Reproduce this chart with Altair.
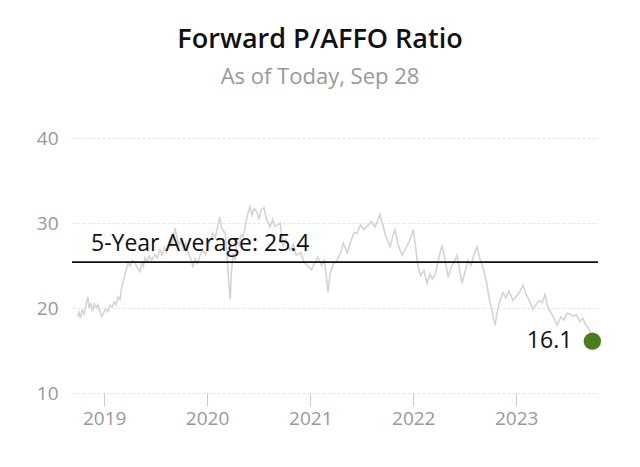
import altair as alt
import pandas as pd

dates = [
    "2018-09-28", "2018-10-04", "2018-10-09", "2018-10-15", "2018-10-22", "2018-10-29",
    "2018-11-04", "2018-11-09", "2018-11-15", "2018-11-20", "2018-11-27", "2018-12-04",
    "2018-12-10", "2018-12-17", "2018-12-24", "2018-12-31", "2019-01-07", "2019-01-14",
    "2019-01-22", "2019-01-29", "2019-02-05", "2019-02-12", "2019-02-19", "2019-02-26",
    "2019-03-05", "2019-03-12", "2019-03-19", "2019-03-27", "2019-04-03", "2019-04-10",
    "2019-04-20", "2019-04-27", "2019-05-08", "2019-05-14", "2019-05-20", "2019-05-26",
    "2019-06-03", "2019-06-10", "2019-06-18", "2019-06-30", "2019-07-08", "2019-07-18",
    "2019-07-26", "2019-08-03", "2019-08-10", "2019-08-22", "2019-08-29", "2019-09-09",
    "2019-09-16", "2019-09-24", "2019-10-01", "2019-10-09", "2019-10-17", "2019-10-25",
    "2019-11-02", "2019-11-12", "2019-11-19", "2019-11-27", "2019-12-05", "2019-12-17",
    "2019-12-26", "2020-01-06", "2020-01-14", "2020-01-21", "2020-01-30", "2020-02-07",
    "2020-02-15", "2020-02-22", "2020-03-05", "2020-03-12", "2020-03-18", "2020-03-23",
    "2020-03-27", "2020-04-02", "2020-04-09", "2020-04-16", "2020-04-24", "2020-05-01",
    "2020-05-08", "2020-05-15", "2020-05-22", "2020-06-01", "2020-06-08", "2020-06-15",
    "2020-06-26", "2020-07-03", "2020-07-10", "2020-07-21", "2020-07-28", "2020-08-11",
    "2020-08-20", "2020-08-28", "2020-09-16", "2020-09-27", "2020-10-06", "2020-10-21",
    "2020-11-02", "2020-11-12", "2020-11-28", "2020-12-10", "2021-01-05", "2021-01-15",
    "2021-01-28", "2021-02-10", "2021-02-20", "2021-03-05", "2021-03-12", "2021-03-22",
    "2021-04-06", "2021-04-18", "2021-04-28", "2021-05-12", "2021-05-24", "2021-06-05",
    "2021-06-16", "2021-06-28", "2021-07-10", "2021-07-21", "2021-08-05", "2021-08-18",
    "2021-09-05", "2021-09-15", "2021-09-25", "2021-10-11", "2021-10-20", "2021-10-28",
    "2021-11-08", "2021-11-22", "2021-12-05", "2021-12-20", "2022-01-01", "2022-01-10",
    "2022-01-18", "2022-01-28", "2022-02-08", "2022-02-19", "2022-03-01", "2022-03-10",
    "2022-03-19", "2022-03-30", "2022-04-13", "2022-04-22", "2022-05-05", "2022-05-15",
    "2022-05-25", "2022-06-05", "2022-06-14", "2022-06-23", "2022-07-03", "2022-07-14",
    "2022-07-25", "2022-08-05", "2022-08-15", "2022-08-25", "2022-09-05", "2022-09-18",
    "2022-09-28", "2022-10-07", "2022-10-13", "2022-10-18", "2022-10-25", "2022-11-02",
    "2022-11-15", "2022-11-25", "2022-12-06", "2022-12-20", "2023-01-04", "2023-01-15",
    "2023-01-25", "2023-02-05", "2023-02-15", "2023-03-01", "2023-03-12", "2023-03-24",
    "2023-04-03", "2023-04-13", "2023-04-24", "2023-05-05", "2023-05-12", "2023-05-26",
    "2023-06-08", "2023-06-20", "2023-06-30", "2023-07-11", "2023-07-22", "2023-08-02",
    "2023-08-15", "2023-08-25", "2023-09-05", "2023-09-19", "2023-09-28",
]

values = [
    19.0, 19.5, 18.8, 19.8, 19.3, 20.4,
    21.3, 20.0, 20.6, 19.6, 20.5, 20.0,
    20.4, 19.6, 19.0, 19.5, 19.9, 19.6,
    20.3, 20.1, 20.7, 20.4, 21.3, 21.0,
    22.6, 23.4, 24.4, 25.3, 24.9, 25.6,
    25.4, 24.8, 24.3, 25.3, 24.9, 25.9,
    25.5, 26.1, 25.6, 26.3, 25.9, 26.8,
    26.2, 27.1, 26.6, 28.0, 27.4, 29.4,
    28.3, 27.4, 28.0, 26.9, 27.6, 26.6,
    26.0, 24.8, 25.8, 25.2, 26.0, 26.8,
    26.3, 27.5, 28.0, 28.8, 28.3, 29.6,
    30.7, 29.4, 28.8, 26.0, 23.0, 21.0,
    24.0, 26.5, 25.6, 28.0, 27.2, 28.6,
    28.4, 29.5, 30.8, 31.9, 30.9, 31.7,
    31.3, 30.4, 31.5, 31.8, 30.6, 29.5,
    30.4, 29.6, 30.0, 27.2, 28.0, 26.8,
    27.5, 26.2, 26.5, 25.4, 24.5, 25.2,
    26.0, 25.0, 25.6, 21.9, 24.0, 25.1,
    25.6, 26.5, 27.6, 26.5, 27.8, 28.9,
    28.8, 29.8, 29.2, 29.6, 30.2, 29.5,
    31.0, 29.8, 28.5, 27.2, 28.4, 29.2,
    27.5, 26.2, 27.0, 28.0, 29.2, 27.0,
    24.8, 23.8, 24.4, 22.9, 24.0, 23.4,
    23.9, 25.5, 27.4, 26.0, 23.6, 24.8,
    25.4, 26.2, 24.5, 22.9, 24.2, 25.6,
    25.0, 26.4, 27.2, 25.8, 24.8, 23.0,
    21.0, 19.8, 18.6, 18.0, 19.4, 20.6,
    21.8, 21.2, 22.0, 20.9, 21.5, 22.0,
    22.7, 21.6, 21.0, 19.8, 20.4, 20.9,
    20.6, 21.6, 20.0, 19.4, 19.0, 18.0,
    18.9, 18.6, 19.4, 19.3, 19.0, 19.2,
    18.4, 18.8, 18.0, 17.4, 16.1,
]

average_value = 25.4
average_label = "5-Year Average: 25.4"
last_date = "2023-09-28"
last_value = 16.1
last_label = "16.1"
year_ticks = [2019, 2020, 2021, 2022, 2023]

FONT = "Open Sans"

series = pd.DataFrame({"date": dates, "value": values})
avg_df = pd.DataFrame({"value": [average_value], "label": [average_label]})
last_df = pd.DataFrame({"date": [last_date], "value": [last_value], "label": [last_label]})

x_scale = alt.Scale(
    type="utc",
    domain=[alt.DateTime(year=2018, month=9, date=9, utc=True),
            alt.DateTime(year=2023, month=10, date=18, utc=True)],
)
y_scale = alt.Scale(domain=[10, 40], nice=False, zero=False)

x_axis = alt.Axis(
    values=[alt.DateTime(year=y, month=1, date=1, utc=True) for y in year_ticks],
    format="%Y", title=None, domain=False, grid=False,
    ticks=True, tickColor="#cccccc", tickSize=13, tickWidth=1,
    labelColor="#999999", labelFontSize=19, labelFont=FONT, labelPadding=3,
)
y_axis = alt.Axis(
    values=[10, 20, 30, 40], title=None, domain=False, ticks=False,
    grid=True, gridColor="#e6e6e6", gridDash=[3, 2], gridWidth=1,
    labelColor="#999999", labelFontSize=19, labelFont=FONT, labelPadding=14,
)

line = alt.Chart(series).mark_line(color="#d4d4d4", strokeWidth=1.6).encode(
    x=alt.X("date:T", scale=x_scale, axis=x_axis),
    y=alt.Y("value:Q", scale=y_scale, axis=y_axis),
)

rule = alt.Chart(avg_df).mark_rule(color="#111111", strokeWidth=1.6).encode(
    y=alt.Y("value:Q", scale=y_scale),
)

avg_text = alt.Chart(avg_df).mark_text(
    align="left", baseline="alphabetic", dy=-11, fontSize=23, font=FONT,
    fontWeight=500, color="#111111",
).encode(
    x=alt.value(19),
    y=alt.Y("value:Q", scale=y_scale),
    text="label:N",
)

dot = alt.Chart(last_df).mark_point(
    filled=True, size=300, color="#4b7d1c", opacity=1, shape="circle",
).encode(
    x=alt.X("date:T", scale=x_scale),
    y=alt.Y("value:Q", scale=y_scale),
)

last_text = alt.Chart(last_df).mark_text(
    align="right", baseline="middle", dx=-20, fontSize=23, font=FONT,
    fontWeight=500, color="#111111",
).encode(
    x=alt.X("date:T", scale=x_scale),
    y=alt.Y("value:Q", scale=y_scale),
    text="label:N",
)

chart = alt.layer(line, rule, avg_text, dot, last_text).properties(
    width=526,
    height=255,
    autosize=alt.AutoSizeParams(type="none"),
    padding={"left": 64, "top": 130, "right": 30, "bottom": 60},
    title=alt.TitleParams(
        text="Forward P/AFFO Ratio",
        subtitle="As of Today, Sep 28",
        anchor="middle",
        dx=-15,
        offset=40,
        font=FONT,
        fontSize=27,
        fontWeight=600,
        color="#111111",
        subtitleFont=FONT,
        subtitleFontSize=22,
        subtitleColor="#999999",
        subtitlePadding=13,
    ),
).configure_view(stroke=None)

chart.save("out.html", embed_options={"renderer": "svg", "actions": False})
